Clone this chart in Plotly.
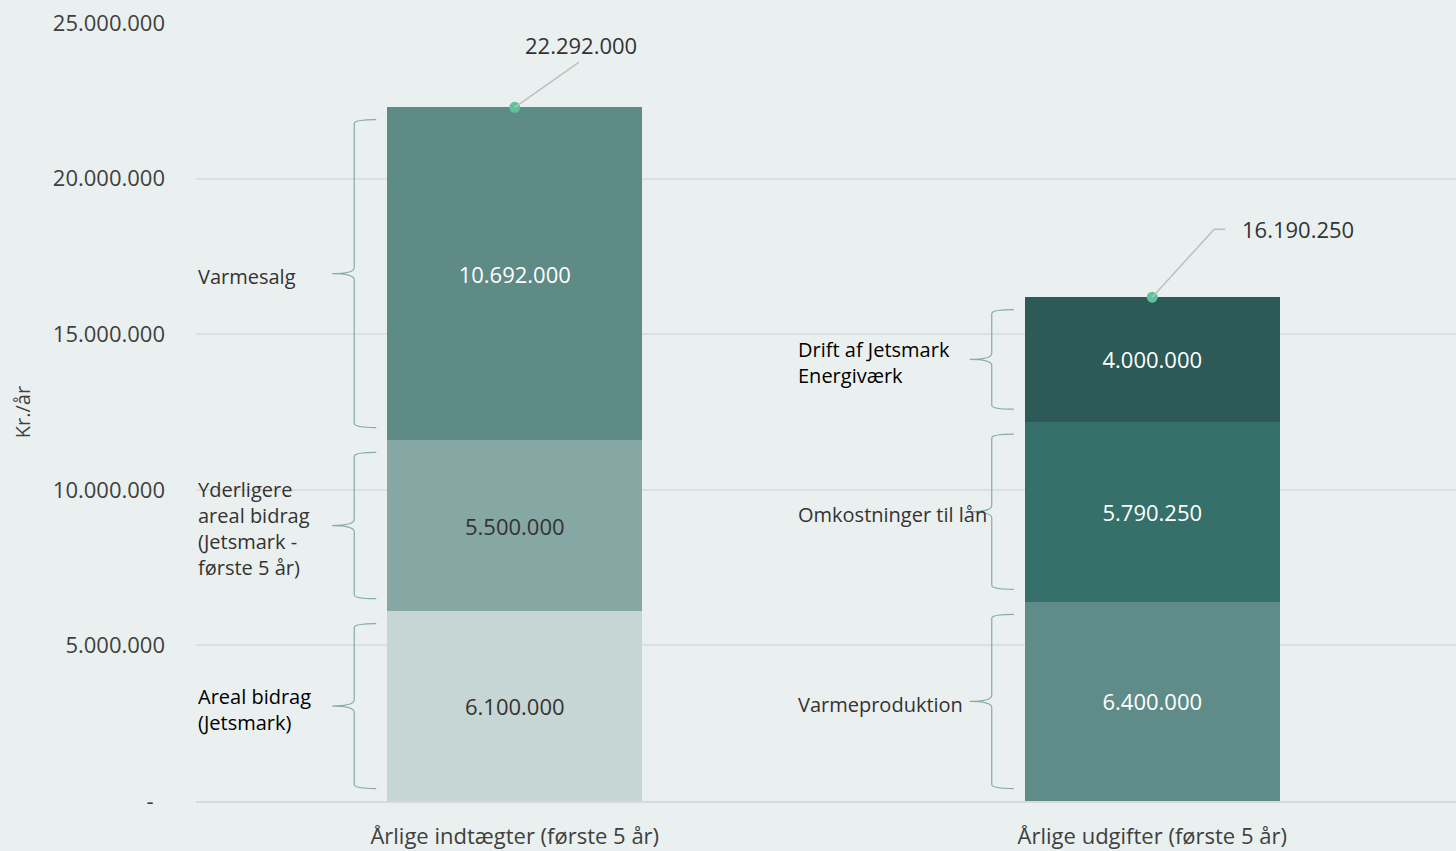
import plotly.graph_objects as go

# --- data -------------------------------------------------------------
CATEGORIES = ["Årlige indtægter (første 5 år)", "Årlige udgifter (første 5 år)"]

INCOME_NAMES = ["Areal bidrag<br>(Jetsmark)",
                "Yderligere<br>areal bidrag<br>(Jetsmark -<br>første 5 år)",
                "Varmesalg"]
INCOME_VALUES = [6100000, 5500000, 10692000]

EXPENSE_NAMES = ["Varmeproduktion", "Omkostninger til lån", "Drift af Jetsmark<br>Energiværk"]
EXPENSE_VALUES = [6400000, 5790250, 4000000]

Y_TICKVALS = [0, 5000000, 10000000, 15000000, 20000000, 25000000]
Y_TICKTEXT = ["-\u00a0\u00a0", "5.000.000", "10.000.000", "15.000.000", "20.000.000", "25.000.000"]

# --- style ------------------------------------------------------------
FONT = "Open Sans, Noto Sans, sans-serif"
BG = "#eaf0ef"
GRID = "#dcdfdf"
BRACE = "#86aca7"
DOT = "#5ec29c"
LEADER = "#bfbfbf"
BAR_W = 0.4

stacks = [
    dict(names=INCOME_NAMES, values=INCOME_VALUES,
         colors=["#c5d6d4", "#86a8a5", "#5e8b86"],
         text_colors=["#333333", "#333333", "#ffffff"],
         label_colors=["#000000", "#333333", "#333333"],
         label_shift=-191),
    dict(names=EXPENSE_NAMES, values=EXPENSE_VALUES,
         colors=["#5f8c88", "#35706a", "#2d5a56"],
         text_colors=["#ffffff", "#ffffff", "#ffffff"],
         label_colors=["#333333", "#333333", "#000000"],
         label_shift=-229),
]


def brace_path(bot, top, mid):
    # x in pixels relative to bar's left edge, y in data units
    inset, c, t = 400000, 130000, 200000
    top -= inset
    bot += inset
    return (f"M -11,{top} Q -33,{top} -33,{top - c} "
            f"L -33,{mid + t} Q -33,{mid} -55,{mid} "
            f"Q -33,{mid} -33,{mid - t} "
            f"L -33,{bot + c} Q -33,{bot} -11,{bot}")


fig = go.Figure()
shapes = []
annotations = []

for ci, st in enumerate(stacks):
    base = 0
    for name, val, col, tcol, lcol in zip(st["names"], st["values"], st["colors"],
                                          st["text_colors"], st["label_colors"]):
        fig.add_trace(go.Bar(
            x=[ci], y=[val], width=BAR_W,
            marker=dict(color=col, line=dict(width=0)),
            texttemplate="%{y:,.0f}", textposition="inside",
            insidetextanchor="middle", textangle=0,
            textfont=dict(size=22, color=tcol, family=FONT),
            hoverinfo="skip", showlegend=False,
        ))
        mid = base + val / 2
        shapes.append(dict(
            type="path", xref="x", yref="y", xsizemode="pixel",
            xanchor=ci - BAR_W / 2, path=brace_path(base, base + val, mid),
            line=dict(color=BRACE, width=1.2),
        ))
        annotations.append(dict(
            x=ci - BAR_W / 2, y=mid, xref="x", yref="y", text=name,
            showarrow=False, xanchor="left", yanchor="middle", align="left",
            xshift=st["label_shift"], yshift=-3,
            font=dict(size=20, color=lcol, family=FONT),
        ))
        base += val

totals = [sum(INCOME_VALUES), sum(EXPENSE_VALUES)]

# leader lines (pixel offsets from the dot) and total labels
leaders = ["M 0,0 L 64,45", "M 0,0 L 62,68 L 73,68"]
label_pos = [dict(xanchor="center", xshift=66, yshift=62),
             dict(xanchor="left", xshift=88, yshift=68)]
for ci, tot in enumerate(totals):
    shapes.append(dict(
        type="path", xref="x", yref="y", xsizemode="pixel", ysizemode="pixel",
        xanchor=ci, yanchor=tot, path=leaders[ci],
        line=dict(color=LEADER, width=1.5),
    ))
    annotations.append(dict(
        x=ci, y=tot, xref="x", yref="y", showarrow=False, yanchor="middle",
        text=f"{tot:,}".replace(",", "."),
        font=dict(size=22, color="#333333", family=FONT), **label_pos[ci],
    ))

fig.add_trace(go.Scatter(
    x=[0, 1], y=totals, mode="markers",
    marker=dict(color=DOT, size=11), hoverinfo="skip", showlegend=False,
))

# category separator ticks below the axis
for xv in [-0.5, 0.5, 1.5]:
    shapes.append(dict(
        type="line", xref="x", yref="y", ysizemode="pixel", yanchor=0,
        x0=xv, x1=xv, y0=0, y1=-9, line=dict(color="#d9d9d9", width=1.5),
    ))

fig.update_layout(
    width=1456, height=851,
    barmode="stack",
    separators=",.",
    paper_bgcolor=BG, plot_bgcolor=BG,
    margin=dict(l=196, r=0, t=23, b=50),
    font=dict(family=FONT, color="#404040"),
    shapes=shapes, annotations=annotations,
    showlegend=False,
)
fig.update_xaxes(
    range=[-0.5, -0.5 + 1260 / 637.5],
    tickvals=[0, 1], ticktext=CATEGORIES,
    tickfont=dict(size=22, color="#404040"),
    showgrid=False, zeroline=False,
    showline=True, linecolor="#d9d9d9", linewidth=1.5,
    ticks="", ticklabelstandoff=15,
)
fig.update_yaxes(
    range=[0, 25000000],
    tickvals=Y_TICKVALS, ticktext=Y_TICKTEXT,
    tickfont=dict(size=22, color="#404040"),
    showgrid=True, gridcolor=GRID, gridwidth=1.5,
    zeroline=False, showline=False, ticks="",
    ticklabelstandoff=30,
    title=dict(text="Kr./år", font=dict(size=20, color="#404040"), standoff=16),
)

fig.write_html(
    "out.html",
    config={"displayModeBar": False},
    post_script="document.body.style.margin='0';document.body.style.overflow='hidden';",
)
